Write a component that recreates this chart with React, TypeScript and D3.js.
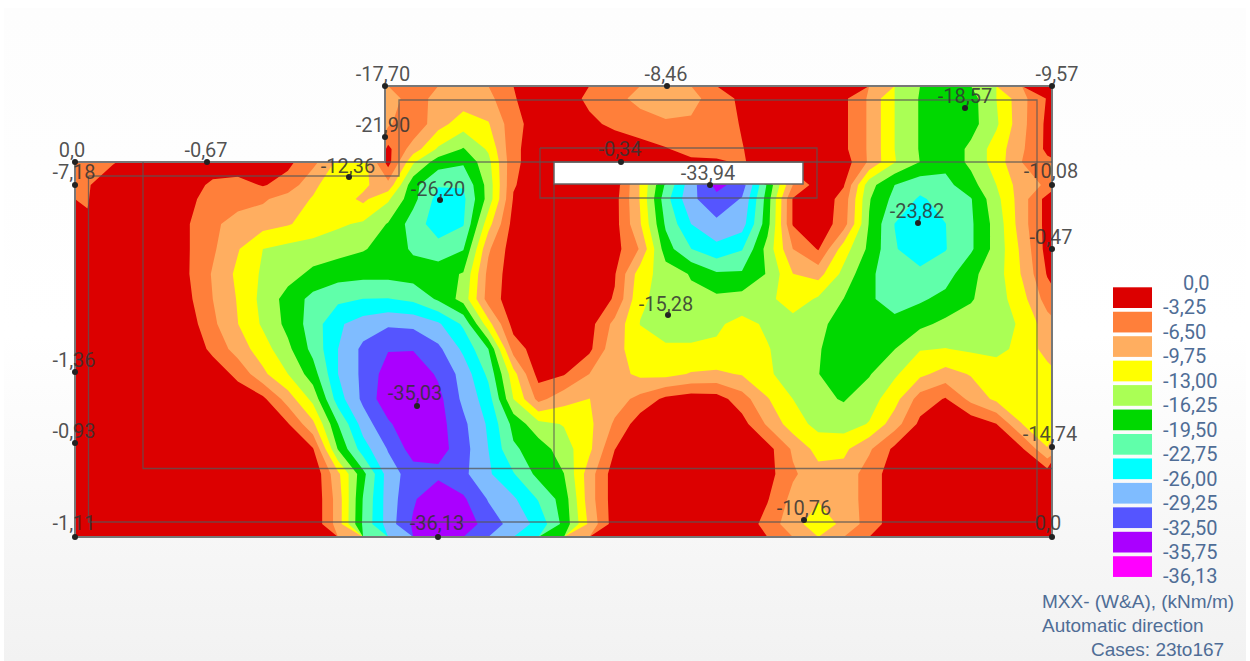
import React from "react";
import * as d3 from "d3";

const W = 1250, H = 661;

// |MXX| in kNm/m, one row per y position
const rowY = [98.5,124,149,162,185,199,224,249,274,299,324,349,374,399,424,449,474,499,524];
const mxxRows = [
[1,1,1,1,1,1,1,1,1,1,1,8,8,5,7.5,8,7.5,3.5,1.5,1.5,4,5.5,7.5,8.5,7.5,5,2.5,1.5,1,1,2.5,7,13,16.5,18,17.5,13,7.5,3],
[1,1,1,1,1,1,1,1,1,1,1,7,7,4,8.5,11.5,10,4.5,1.5,1.5,2.5,4,5,6,6,5,3,1,1,1,2.5,7,13,16.5,18.5,17.5,13.5,7.5,2.5],
[5,4,2,1,1,1,1,1,2,5,11,11,2.5,8,13.5,16.5,12.5,4,1.5,1.5,1,1,2,3,4.5,4.5,3.4,1.5,1,1,2.5,7,13,16.5,18.5,15.5,11.5,7,2.5],
[4,3.5,2,1,1,1,1,1.5,2.5,5.5,10.5,11.5,2,12.5,18,19,14,4,1.5,1.5,1,1,1.5,2,2.5,2.8,3.6,1.5,1,1,1.5,7,12.8,16.3,18.5,15.5,11.5,6.5,4],
[3.5,1.5,1,1,1.5,4,4.5,3,4.5,9,12,10.5,7.5,18.5,22.5,22.5,15,3.5,1.5,1.5,1.5,1.5,10,20,28,33.5,31,19,6.5,1.5,3,15,19.5,21.5,20.5,17.5,13,8,6],
[3.4,1,1,1,2.5,4.5,5.5,6,8,10,11.5,9,12.5,18.5,24,23.5,15,3,1.5,1.5,1.5,2,10,21.5,28.5,31.5,29,18,3,1,4.5,16,20.5,23.2,21.5,19.7,14,8,2],
[3,1,1,1,3,6,7.5,8.5,9.5,11,12.5,13.5,16.5,21,24.5,23,11,2,1.5,1.5,2,2,9.5,20,26,28.5,27.5,17.5,3,1,5,16.5,22.8,25,22.8,20,15,8,2],
[1,1,1,1,3,6,9.5,13,14,14.5,15,16,17.5,20,21.5,19.7,7,1.5,1.5,1.5,1.5,2,6.8,18,22.7,25,23,15,6.5,3,11.5,17,22.5,24.5,22.9,20,15,9,2],
[1,1,1,1,3,6.8,10.5,13.5,15,17,18.2,18.5,18.5,18,17.5,16,5.5,1.5,1.5,1.5,1.5,3,11.5,14.5,16.5,19,19,16,9.8,8.5,14,19,21,22,21,17,14.5,9.5,3],
[1,1,1,1,2.5,6.5,10,14,17.5,20.5,22,22.8,22.9,22,19,15,5,1.5,1.5,1.5,1.5,3.5,12.5,14,15.5,15.5,15,14,11,13.5,16.3,19,21,20,18.5,16.5,14.5,11,5],
[1,1,1,1,1.5,5.8,9.7,13.5,17.2,21,25.5,27.5,28.8,28.5,26.5,22.2,11,2,1.5,1.5,2,7.5,13.1,14.5,14.5,13.5,12,13.5,14.5,15.5,17.5,18.5,18.5,17,15.5,15,14.5,12.5,8],
[1,1,1,1,1,4,8,11.5,15.5,20.5,26,30,32.3,32.3,30,25.3,19.5,5,1.5,1.5,2.5,9,11,12.5,12.5,12.5,11.5,12.8,14.5,16,18,18,16.3,13.2,12.9,13.5,14,12,8.5],
[1,1,1,1,1,1.5,4,9,13,18,26,30,34,34.8,32,28,22,11,2,3,6.5,8.5,10.5,10.8,9.5,9.2,10,12.5,14.5,16.2,17.5,16.5,13.5,10.5,8.5,10,11,12,11],
[1,1,1,1,1,1,1.5,2.5,8,14,24.5,30,34.7,35.4,33.5,28.5,24.3,13,5.5,8.5,9.8,8,5.5,2.5,1.5,1.8,5,9.5,13,15.5,16.5,14.5,11,5,3,7.5,10.5,11.5,12],
[1,1,1,1,1,1,1,1,3,9,19.5,27.5,32,35,33.8,30,25.5,18.5,14,12.8,10.5,6,1.5,1,1,1,2,7,11.5,14,14.5,12.8,8,2.5,1,1,3.2,9.7,12.5],
[1,1,1,1,1,1,1,1,1,3,16.5,24.5,29.5,34,34,30.5,26,20,18,14.5,10.5,3.3,1,1,1,1,1,2,7,11,10.5,7,2.5,1,1,1,1,2.8,9.5],
[1,1,1,1,1,1,1,1,1,0.5,9,18.5,27.5,31,31.5,30,26.5,23,18.5,16.3,8,1.5,1,1,1,1,1,2,6,8.5,8.5,5,1.5,1,1,1,1,1,1.5],
[1,1,1,1,1,1,1,1,1,0.5,8,19.7,27.5,32,35.5,33,29,26.5,22.5,18,8,1.5,1,1,1,1,1,3,7.5,9.5,8.5,5,1.5,1,1,1,1,1,1],
[1,1,1,1,1,1,1,1,1,0.5,8,20,27.5,33,35.5,34.5,31,28,25,18.5,9,1.5,1,1,1,1,1,4.5,8.5,11.5,9,5,1.5,1,1,1,1,1,1],
];

const legendLabels = ["0,0","-3,25","-6,50","-9,75","-13,00","-16,25","-19,50","-22,75","-26,00","-29,25","-32,50","-35,75","-36,13"];
const bandColors = ["#dc0000","#ff7f3a","#ffae60","#ffff00","#aaff55","#00d800","#60ffaa","#00ffff","#7fbcff","#5555ff","#aa00ff","#ff00ff"];
const thresholds = [3.25,6.5,9.75,13,16.25,19.5,22.75,26,29.25,32.5,35.75];

const nodes: [string, number, number, number, number][] = [
  ["0,0",75,162,72,150],["-0,67",207,162,206,150],["-7,18",75,185,74,172],
  ["-17,70",385,86,383,74],["-21,90",385,137,383,125],["-12,36",349,177,348,166],
  ["-26,20",440,200,438,189],["-8,46",667,86,666,74],["-9,57",1052,86,1057,74],
  ["-18,57",965,108,965,96],["-0,34",621,162,620,149],["-33,94",710,185,708,173],
  ["-10,08",1052,185,1051,171],["-23,82",918,223,917,211],["-0,47",1052,249,1051,237],
  ["-15,28",668,315,666,304],["-1,36",75,372,74,360],["-35,03",417,406,415,393],
  ["-0,93",75,443,74,431],["-14,74",1052,447,1050,434],["-10,76",804,520,804,508],
  ["-1,11",75,537,74,523],["-36,13",438,537,437,523],["0,0",1052,537,1048,523],
];

const outline: [number, number][] = [[75,162],[385,162],[385,86],[1052,86],[1052,537],[75,537]];
const hole = { x: 554, y: 162, w: 249, h: 22 };
const innerLines: [number, number][][] = [
  [[88.5,176],[399,176],[399,100],[1037,100],[1037,522],[88.5,522],[88.5,176]],
  [[143,162],[143,468.5],[1052,468.5]],
  [[385,162],[1052,162]],
  [[554,184],[554,468.5]],
  [[540,148],[817,148],[817,198],[540,198],[540,148]],
];

const legendTitle = ["MXX- (W&A), (kNm/m)", "Automatic direction", "Cases: 23to167"];

const nx = mxxRows[0].length, ny = mxxRows.length;
const cellW = 977 / nx;
const xs = d3.scaleLinear().domain([0, (540 - 75) / cellW, nx]).range([75, 540, 1060]);
const ys = d3.scaleLinear()
  .domain([0, ...rowY.map((_, i) => i + 0.5), ny])
  .range([86, ...rowY, 537]);

const contourSets = d3.contours().size([nx, ny]).thresholds(thresholds)(mxxRows.flat());
const toScreen = d3.geoTransform({
  point(x: number, y: number) { (this as any).stream.point(xs(x), ys(y)); },
});
const contourPath = d3.geoPath(toScreen as any);
const polyLine = d3.line();

const legendY = d3.scaleLinear().domain([0, 12]).range([283, 576.4]);
const FONT = "Roboto, sans-serif";
const FOOT = "'Liberation Sans', Arial, sans-serif";

export default function App() {
  return (
    <svg width={W} height={H} style={{ position: "absolute", left: 0, top: 0, display: "block" }}>
      <defs>
        <linearGradient id="bg" x1="0" y1="0" x2="0" y2="1">
          <stop offset="0" stopColor="#fdfdfd" />
          <stop offset="0.5" stopColor="#ffffff" />
          <stop offset="1" stopColor="#f2f2f2" />
        </linearGradient>
        <clipPath id="plate"><path d={polyLine(outline) + "Z"} /></clipPath>
      </defs>
      <rect width={W} height={H} fill="#fff" />
      <rect x={4} y={8} width={W - 8} height={H - 8} fill="url(#bg)" />
      <g clipPath="url(#plate)">
        <path d={polyLine(outline) + "Z"} fill={bandColors[0]} />
        {contourSets.map((c, i) => (
          <path key={i} d={contourPath(c as any) || ""} fill={bandColors[i + 1]} />
        ))}
      </g>
      <rect x={hole.x} y={hole.y} width={hole.w} height={hole.h} fill="#fff" stroke="#666" strokeWidth={1.5} />
      <path d={polyLine(outline) + "Z"} fill="none" stroke="#777" strokeWidth={2} />
      {innerLines.map((l, i) => (
        <path key={i} d={polyLine(l) || ""} fill="none" stroke="#555" strokeOpacity={0.75} strokeWidth={1.3} />
      ))}
      {nodes.map(([t, nxp, nyp, lx, ly], i) => (
        <g key={i}>
          <circle cx={nxp} cy={nyp} r={3} fill="#222" />
          <text x={lx} y={ly} textAnchor="middle" dominantBaseline="central" fontFamily={FONT} fontSize={20} fill="#333" fillOpacity={0.85}>{t}</text>
        </g>
      ))}
      {bandColors.map((c, i) => (
        <rect key={i} x={1113} y={legendY(i) + 4.3} width={39} height={20.7} fill={c} />
      ))}
      {legendLabels.map((t, i) => (
        <text key={i} x={i === 0 ? 1183 : 1163} y={legendY(i)} dominantBaseline="central" fontFamily={FONT} fontSize={20} fill="#4f6d96">{t}</text>
      ))}
      <text x={1042} y={601} dominantBaseline="central" fontFamily={FOOT} fontSize={19} fill="#4f6d96">{legendTitle[0]}</text>
      <text x={1042} y={625} dominantBaseline="central" fontFamily={FOOT} fontSize={19} fill="#4f6d96">{legendTitle[1]}</text>
      <text x={1091} y={649} dominantBaseline="central" fontFamily={FOOT} fontSize={19} fill="#4f6d96">{legendTitle[2]}</text>
    </svg>
  );
}
